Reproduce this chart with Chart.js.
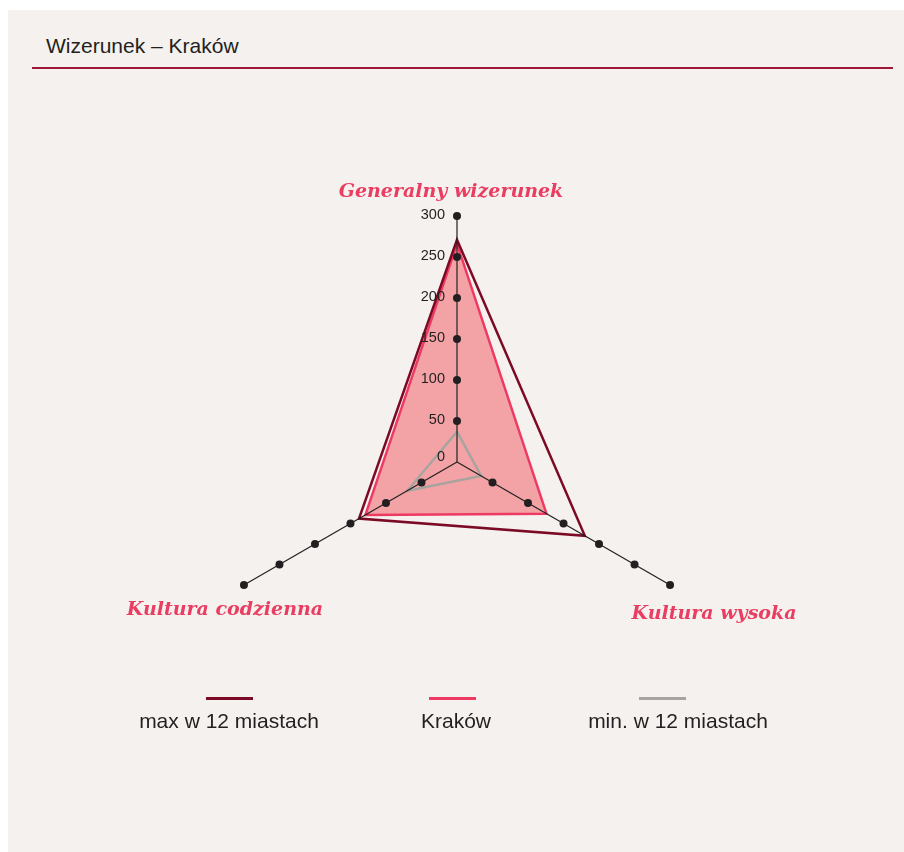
<!DOCTYPE html>
<html>
<head>
<meta charset="utf-8">
<script src="https://cdn.jsdelivr.net/npm/chart.js@4"></script>
<style>
  html, body { margin: 0; padding: 0; background: #fff; }
  .panel { position: absolute; left: 8px; top: 10px; width: 896px; height: 842px; background: #f4f1ee; }
  .title { position: absolute; left: 38px; top: 24px; font: 21px "Liberation Sans", Arial, sans-serif; color: #231f20; }
  .rule { position: absolute; left: 24px; top: 57px; width: 861px; height: 2px; background: #a0173a; }
  #wrap { position: absolute; left: 0; top: 0; width: 904px; height: 852px; }
  .legend { position: absolute; top: 697px; left: 0; width: 904px; font: 21px "Liberation Sans", Arial, sans-serif; color: #231f20; }
  .legend .item { position: absolute; text-align: center; }
  .legend .sw { height: 3px; width: 47px; margin: 0 auto 9px; }
</style>
</head>
<body>
<div class="panel">
  <div class="title">Wizerunek – Kraków</div>
  <div class="rule"></div>
</div>
<div id="wrap"><canvas id="radar"></canvas></div>
<div class="legend" id="legend"></div>
<script>
const axes = ['Generalny wizerunek', 'Kultura wysoka', 'Kultura codzienna'];
const maxCities = [271, 180, 138];
const krakow = [266, 126, 129];
const minCities = [37, 34, 70];
const tickValues = [0, 50, 100, 150, 200, 250, 300];

// offset of each axis title from the end of its axis
const labelShift = [[-6, -24], [44, 29], [-19, 25]];

const axisDecor = {
  id: 'axisDecor',
  afterDatasetsDraw(chart) {
    const ctx = chart.ctx;
    const r = chart.scales.r;
    ctx.save();
    // axis lines
    ctx.strokeStyle = '#231f20';
    ctx.lineWidth = 1.2;
    axes.forEach((a, i) => {
      const end = r.getPointPositionForValue(i, 300);
      ctx.beginPath();
      ctx.moveTo(r.xCenter, r.yCenter);
      ctx.lineTo(end.x, end.y);
      ctx.stroke();
    });
    // dots on every tick
    ctx.fillStyle = '#231f20';
    axes.forEach((a, i) => {
      tickValues.forEach(v => {
        if (v === 0) return;
        const p = r.getPointPositionForValue(i, v);
        ctx.beginPath();
        ctx.arc(p.x, p.y, 4, 0, Math.PI * 2);
        ctx.fill();
      });
    });
    // tick labels on the top axis
    ctx.font = '14.5px "Liberation Sans", Arial, sans-serif';
    ctx.textAlign = 'right';
    ctx.textBaseline = 'middle';
    tickValues.forEach(v => {
      const p = r.getPointPositionForValue(0, v);
      ctx.fillText(String(v), p.x - 12, p.y - (v === 0 ? 5 : 1));
    });
    // axis titles
    ctx.font = 'italic bold 19px "DejaVu Serif", serif';
    ctx.fillStyle = '#ea3d62';
    ctx.textAlign = 'center';
    ctx.textBaseline = 'middle';
    axes.forEach((a, i) => {
      const p = r.getPointPositionForValue(i, 300);
      ctx.fillText(a, p.x + labelShift[i][0], p.y + labelShift[i][1]);
    });
    ctx.restore();
  }
};

const chart = new Chart(document.getElementById('radar'), {
  type: 'radar',
  data: {
    labels: axes,
    datasets: [{
      label: 'max w 12 miastach',
      data: maxCities,
      borderColor: '#7c0a24',
      backgroundColor: 'rgba(0,0,0,0)',
      borderWidth: 2.5,
      fill: false,
      pointRadius: 0,
      order: 1
    }, {
      label: 'Kraków',
      data: krakow,
      borderColor: '#ee3a62',
      backgroundColor: 'rgba(242, 98, 108, 0.55)',
      borderWidth: 2.5,
      fill: true,
      pointRadius: 0,
      order: 3
    }, {
      label: 'min. w 12 miastach',
      data: minCities,
      borderColor: '#a8a39e',
      backgroundColor: 'rgba(0,0,0,0)',
      borderWidth: 2.5,
      fill: false,
      pointRadius: 0,
      order: 2
    }]
  },
  options: {
    responsive: true,
    maintainAspectRatio: false,
    animation: false,
    layout: { padding: { left: 211, right: 201, top: 216, bottom: 144 } },
    plugins: { legend: { display: false }, tooltip: { enabled: false } },
    elements: { line: { tension: 0 } },
    scales: {
      r: {
        min: 0,
        max: 300,
        ticks: { display: false, stepSize: 50 },
        grid: { display: false },
        angleLines: { display: false },
        pointLabels: { display: false }
      }
    }
  },
  plugins: [axisDecor]
});

// html legend: swatch above label
const legendPos = [
  { left: 119, width: 220, sw: 0 },
  { left: 346, width: 220, sw: -4 },
  { left: 568, width: 220, sw: -16 }
];
const legend = document.getElementById('legend');
chart.data.datasets.forEach((ds, i) => {
  const item = document.createElement('div');
  item.className = 'item';
  item.style.left = legendPos[i].left + 'px';
  item.style.width = legendPos[i].width + 'px';
  const sw = document.createElement('div');
  sw.className = 'sw';
  sw.style.background = ds.borderColor;
  sw.style.position = 'relative';
  sw.style.left = legendPos[i].sw + 'px';
  const txt = document.createElement('div');
  txt.textContent = ds.label;
  item.appendChild(sw);
  item.appendChild(txt);
  legend.appendChild(item);
});
</script>
</body>
</html>
